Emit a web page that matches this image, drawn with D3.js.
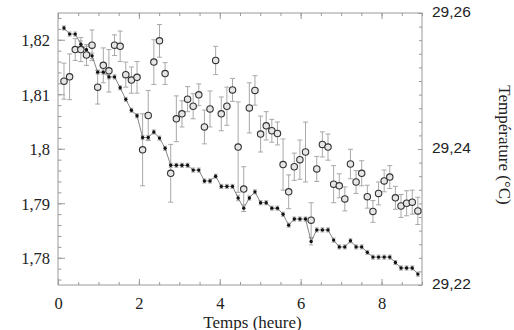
<!DOCTYPE html>
<html>
<head>
<meta charset="utf-8">
<script src="https://cdn.jsdelivr.net/npm/d3@7"></script>
<style>
  body { margin: 0; background: #fff; }
</style>
</head>
<body>
<div id="chart"></div>
<script>
// data (temps en heures, deux séries sur la même base de temps)
const times = [
  0.148, 0.287, 0.426, 0.565, 0.704, 0.842, 0.981, 1.120, 1.259, 1.398,
  1.537, 1.676, 1.815, 1.954, 2.092, 2.231, 2.370, 2.509, 2.648, 2.787,
  2.926, 3.065, 3.204, 3.342, 3.481, 3.620, 3.759, 3.898, 4.037, 4.176,
  4.315, 4.454, 4.592, 4.731, 4.870, 5.009, 5.148, 5.287, 5.426, 5.565,
  5.704, 5.842, 5.981, 6.120, 6.259, 6.398, 6.537, 6.676, 6.815, 6.954,
  7.092, 7.231, 7.370, 7.509, 7.648, 7.787, 7.926, 8.065, 8.204, 8.342,
  8.481, 8.620, 8.759, 8.898
];

// série de gauche (cercles ouverts)
const mesure = [
  1.8124, 1.8132, 1.8182, 1.8182, 1.8172, 1.8190, 1.8113, 1.8153, 1.8143, 1.8190,
  1.8188, 1.8136, 1.8126, 1.8131, 1.7998, 1.8061, 1.8159, 1.8198, 1.8138, 1.7955,
  1.8055, 1.8064, 1.8091, 1.8078, 1.8099, 1.8040, 1.8073, 1.8162, 1.8064, 1.8078,
  1.8108, 1.8003, 1.7926, 1.8075, 1.8107, 1.8027, 1.8042, 1.8033, 1.8028, 1.7971,
  1.7921, 1.7967, 1.7980, 1.7994, 1.7869, 1.7963, 1.8008, 1.8003, 1.7935, 1.7932,
  1.7908, 1.7972, 1.7939, 1.7955, 1.7912, 1.7885, 1.7918, 1.7941, 1.7948, 1.7910,
  1.7895, 1.7900, 1.7902, 1.7886
];
const mesureErr = [
  0.0033, 0.0042, 0.0020, 0.0022, 0.0019, 0.0028, 0.0031, 0.0032, 0.0039, 0.0019,
  0.0028, 0.0023, 0.0024, 0.0029, 0.0066, 0.0046, 0.0041, 0.0030, 0.0020, 0.0053,
  0.0042, 0.0024, 0.0023, 0.0023, 0.0020, 0.0031, 0.0033, 0.0026, 0.0031, 0.0035,
  0.0021, 0.0083, 0.0041, 0.0046, 0.0027, 0.0033, 0.0026, 0.0021, 0.0021, 0.0047,
  0.0031, 0.0025, 0.0036, 0.0055, 0.0032, 0.0023, 0.0023, 0.0024, 0.0034, 0.0022,
  0.0022, 0.0027, 0.0021, 0.0023, 0.0021, 0.0020, 0.0021, 0.0020, 0.0021, 0.0021,
  0.0021, 0.0023, 0.0022, 0.0025
];

// température (points pleins, axe de droite)
const temperature = [
  29.2578, 29.2569, 29.2569, 29.2554, 29.2546, 29.2537, 29.2513, 29.2513, 29.2506, 29.2506,
  29.2490, 29.2473, 29.2457, 29.2449, 29.2417, 29.2417, 29.2425, 29.2416, 29.2401, 29.2376,
  29.2376, 29.2376, 29.2376, 29.2369, 29.2369, 29.2353, 29.2353, 29.2360, 29.2345, 29.2345,
  29.2345, 29.2328, 29.2313, 29.2328, 29.2337, 29.2321, 29.2321, 29.2313, 29.2313, 29.2304,
  29.2288, 29.2297, 29.2297, 29.2297, 29.2264, 29.2281, 29.2281, 29.2281, 29.2266, 29.2256,
  29.2256, 29.2265, 29.2256, 29.2256, 29.2248, 29.2241, 29.2241, 29.2241, 29.2241, 29.2233,
  29.2225, 29.2225, 29.2225, 29.2216
];
const temperatureErr = [
  0.0003, 0.0003, 0.0003, 0.0005, 0.0005, 0.0004, 0.0003, 0.0003, 0.0003, 0.0003,
  0.0003, 0.0003, 0.0003, 0.0003, 0.0003, 0.0003, 0.0003, 0.0003, 0.0003, 0.0003,
  0.0003, 0.0003, 0.0003, 0.0003, 0.0003, 0.0003, 0.0003, 0.0003, 0.0003, 0.0003,
  0.0003, 0.0004, 0.0005, 0.0003, 0.0003, 0.0003, 0.0003, 0.0003, 0.0003, 0.0003,
  0.0003, 0.0003, 0.0003, 0.0003, 0.0005, 0.0003, 0.0003, 0.0003, 0.0003, 0.0003,
  0.0003, 0.0003, 0.0003, 0.0003, 0.0003, 0.0003, 0.0003, 0.0003, 0.0003, 0.0003,
  0.0003, 0.0003, 0.0003, 0.0003
];

const xTicks = [0, 2, 4, 6, 8];
const leftTicks = [1.78, 1.79, 1.8, 1.81, 1.82];
const rightTicks = [29.22, 29.24, 29.26];
const xTitle = "Temps (heure)";
const rightTitle = "Température (°C)";

// helpers
const W = 514, H = 330;
const P = { left: 58, right: 422, top: 13, bottom: 285 };
const SERIF = "'Liberation Serif', 'Times New Roman', serif";
const SANS = "'Liberation Sans', Arial, sans-serif";
const comma = d => String(d).replace(".", ",");

const svg = d3.select("#chart").append("svg").attr("width", W).attr("height", H);

const x = d3.scaleLinear().domain([0, 9]).range([P.left, P.right]);
const yL = d3.scaleLinear().domain([1.775, 1.825]).range([P.bottom, 12.5]);
const yR = d3.scaleLinear().domain([29.22, 29.26]).range([P.bottom, P.top]);

const frameCol = "#9a9a9a";

// cadre
svg.append("rect")
  .attr("x", P.left).attr("y", P.top)
  .attr("width", P.right - P.left).attr("height", P.bottom - P.top)
  .attr("fill", "none").attr("stroke", frameCol).attr("stroke-width", 1);

function styleAxis(sel) {
  sel.select(".domain").remove();
  sel.selectAll(".tick line").attr("stroke", frameCol);
  sel.selectAll("text").attr("fill", "#222");
}

// axe x (bas + haut, ticks vers l'intérieur)
const minorX = d3.range(0, 9.01, 0.5);
svg.append("g").attr("transform", `translate(0,${P.bottom})`)
  .call(d3.axisBottom(x).tickValues(minorX).tickSize(-3).tickFormat(""))
  .call(styleAxis);
svg.append("g").attr("transform", `translate(0,${P.bottom})`)
  .call(d3.axisBottom(x).tickValues(xTicks).tickSize(-6).tickPadding(12).tickFormat(d3.format("d")))
  .call(styleAxis)
  .selectAll("text").style("font-family", SERIF).style("font-size", "16.5px");
svg.append("g").attr("transform", `translate(0,${P.top})`)
  .call(d3.axisTop(x).tickValues(minorX).tickSize(-3).tickFormat(""))
  .call(styleAxis);
svg.append("g").attr("transform", `translate(0,${P.top})`)
  .call(d3.axisTop(x).tickValues(xTicks).tickSize(-6).tickFormat(""))
  .call(styleAxis);

// axe gauche
const minorL = d3.range(1.776, 1.8245, 0.002);
svg.append("g").attr("transform", `translate(${P.left},0)`)
  .call(d3.axisLeft(yL).tickValues(minorL).tickSize(-3.5).tickFormat(""))
  .call(styleAxis);
svg.append("g").attr("transform", `translate(${P.left},0)`)
  .call(d3.axisLeft(yL).tickValues(leftTicks).tickSize(-7).tickPadding(8).tickFormat(comma))
  .call(styleAxis)
  .selectAll("text").style("font-family", SERIF).style("font-size", "16.5px").attr("dy", "0.36em");

// axe droit (température)
const minorR = d3.range(29.22, 29.2601, 0.002);
svg.append("g").attr("transform", `translate(${P.right},0)`)
  .call(d3.axisRight(yR).tickValues(minorR).tickSize(-3).tickFormat(""))
  .call(styleAxis);
svg.append("g").attr("transform", `translate(${P.right},0)`)
  .call(d3.axisRight(yR).tickValues(rightTicks).tickSize(-4).tickPadding(10).tickFormat(comma))
  .call(styleAxis)
  .selectAll("text").style("font-family", SANS).style("font-size", "15.5px").attr("dy", "0.2em");

// titres
svg.append("text")
  .attr("x", 252.5).attr("y", 328)
  .attr("text-anchor", "middle")
  .style("font-family", SERIF).style("font-size", "17px").attr("fill", "#222")
  .text(xTitle);
svg.append("text")
  .attr("transform", "translate(505,145) rotate(90)")
  .attr("text-anchor", "middle").attr("dy", "0.33em")
  .style("font-family", SERIF).style("font-size", "17px").attr("fill", "#222")
  .text(rightTitle);

// données
const pts = times.map((t, i) => ({
  t, m: mesure[i], me: mesureErr[i], T: temperature[i], Te: temperatureErr[i]
}));

const errCol = "#a8a8a8";
const cap = 2.5;

// barres d'erreur — mesure
const gm = svg.append("g");
gm.selectAll(null).data(pts).join("line")
  .attr("x1", d => x(d.t)).attr("x2", d => x(d.t))
  .attr("y1", d => yL(d.m - d.me)).attr("y2", d => yL(d.m + d.me))
  .attr("stroke", errCol).attr("stroke-width", 1);
[-1, 1].forEach(s => {
  gm.selectAll(null).data(pts).join("line")
    .attr("x1", d => x(d.t) - cap).attr("x2", d => x(d.t) + cap)
    .attr("y1", d => yL(d.m + s * d.me)).attr("y2", d => yL(d.m + s * d.me))
    .attr("stroke", errCol).attr("stroke-width", 1);
});

// barres d'erreur — température
const gt = svg.append("g");
gt.selectAll(null).data(pts).join("line")
  .attr("x1", d => x(d.t)).attr("x2", d => x(d.t))
  .attr("y1", d => yR(d.T - d.Te)).attr("y2", d => yR(d.T + d.Te))
  .attr("stroke", errCol).attr("stroke-width", 1);
[-1, 1].forEach(s => {
  gt.selectAll(null).data(pts).join("line")
    .attr("x1", d => x(d.t) - 2).attr("x2", d => x(d.t) + 2)
    .attr("y1", d => yR(d.T + s * d.Te)).attr("y2", d => yR(d.T + s * d.Te))
    .attr("stroke", errCol).attr("stroke-width", 1);
});

// ligne température
const line = d3.line().x(d => x(d.t)).y(d => yR(d.T));
svg.append("path").datum(pts)
  .attr("fill", "none").attr("stroke", "#666").attr("stroke-width", 0.8)
  .attr("d", line);
svg.append("g").selectAll("circle").data(pts).join("circle")
  .attr("cx", d => x(d.t)).attr("cy", d => yR(d.T))
  .attr("r", 1.7).attr("fill", "#111");

// cercles mesure
svg.append("g").selectAll("circle").data(pts).join("circle")
  .attr("cx", d => x(d.t)).attr("cy", d => yL(d.m))
  .attr("r", 3.2).attr("fill", "#e6e6e6")
  .attr("stroke", "#333").attr("stroke-width", 1.1);
</script>
</body>
</html>
